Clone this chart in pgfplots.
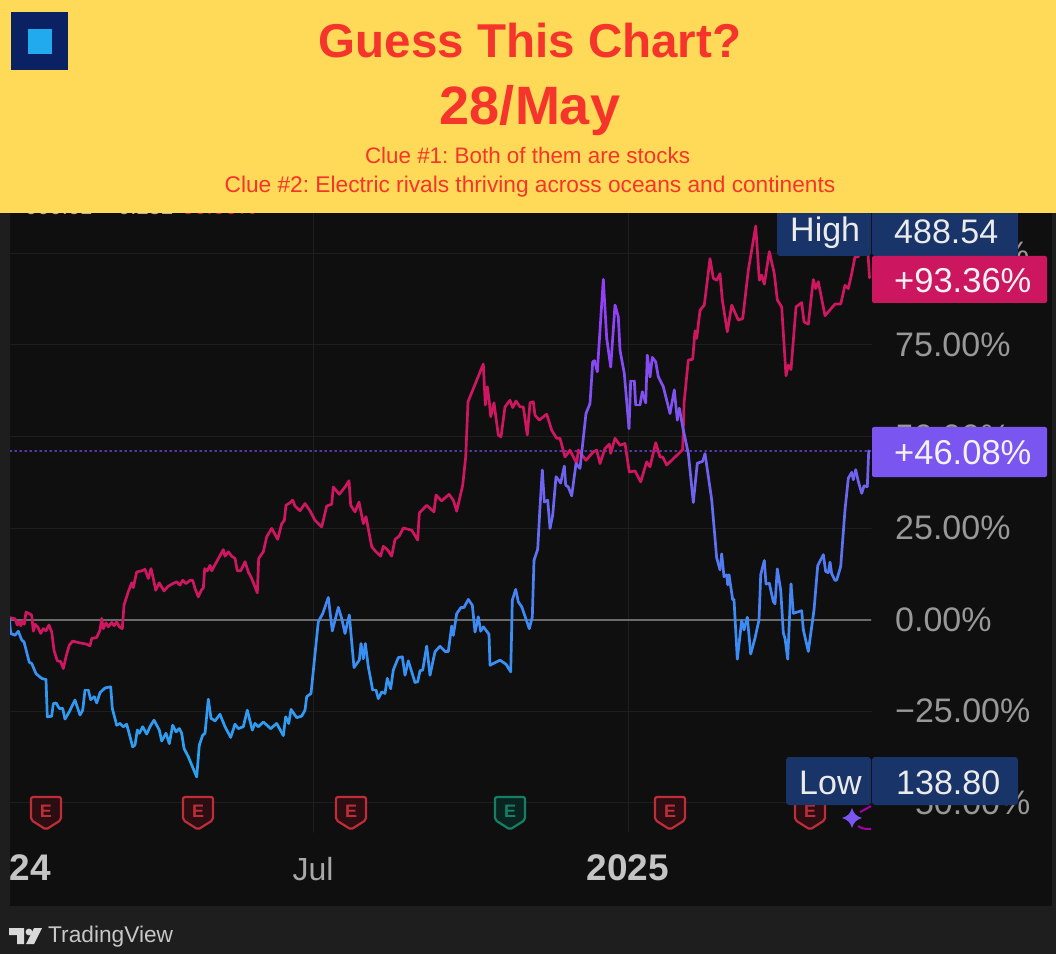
\documentclass[border=0pt]{standalone}
\usepackage{fontspec}
\setmainfont{Liberation Sans}
\usepackage{pgfplots}
\pgfplotsset{compat=1.18}
\frenchspacing
\definecolor{banner}{HTML}{FFDA58}
\definecolor{ttl}{HTML}{F5352B}
\definecolor{panel}{HTML}{0F0F10}
\definecolor{strip}{HTML}{1E1E1F}
\definecolor{gridc}{HTML}{1E1E1F}
\definecolor{pinkl}{HTML}{CF1660}
\definecolor{pinktag}{HTML}{CC1760}
\definecolor{purtag}{HTML}{7B55F0}
\definecolor{navy}{HTML}{183468}
\definecolor{axt}{HTML}{989898}
\definecolor{redE}{HTML}{BE2D38}
\definecolor{redF}{HTML}{2A0E11}
\definecolor{grnE}{HTML}{147F66}
\definecolor{grnF}{HTML}{0B231E}
\newcommand{\fs}[1]{\fontsize{#1}{#1}\selectfont}
\newcommand{\shield}[3]{%
  \begin{scope}[shift={(#1,0)}]
  \draw[#2,fill=#3,line width=2.2pt,rounded corners=2pt,line join=round]
    (-15,797)--(15,797)--(15,820)--(0,829.5)--(-15,820)--cycle;
  \node[text=#2,font=\fs{18}\bfseries,inner sep=0pt] at (0,811.5) {E};
  \end{scope}}
\begin{document}
\begin{tikzpicture}
\path[use as bounding box] (0,0) rectangle (1056pt,954pt);
\fill[strip] (0,0) rectangle (1056pt,954pt);
\fill[panel] (10pt,48.5pt) rectangle (1052pt,954pt);
\begin{axis}[
  at={(9pt,122pt)},anchor=south west,
  x=1pt,y=3.66pt,
  xmin=9,xmax=871,ymin=-58.06,ymax=111.07,
  axis line style={draw=none},
  major tick length=0pt,
  grid=major,
  grid style={gridc,line width=1pt},
  xtick={9.5,313,628},
  xticklabels={\textcolor[HTML]{C4C4C4}{\fs{37}\bfseries 2024},\textcolor[HTML]{A8A8A8}{Jul},\textcolor[HTML]{C4C4C4}{\fs{37}\bfseries 2025}},
  ytick={-50,-25,0,25,50,75,100},
  yticklabels={−50.00\%,−25.00\%,0.00\%,25.00\%,50.00\%,75.00\%,100.00\%},
  yticklabel pos=right,
  y tick label style={anchor=west,inner sep=0pt,xshift=24pt,text=axt,font=\fs{34}},
  x tick label style={anchor=base,inner sep=0pt,yshift=-48pt,font=\fs{32}},
  colormap={tv}{rgb255(0pt)=(40,165,240); rgb255(43pt)=(62,138,245); rgb255(73pt)=(105,105,240); rgb255(100pt)=(125,85,240); rgb255(136pt)=(155,55,250)},
  point meta min=-43, point meta max=93,
  line cap=round,line join=round,
]
\addplot[no markers,color=white!42!black,line width=2pt] coordinates {(10,0)(871,0)};
\addplot[no markers,color=purtag!70!black,line width=1.4pt,dash pattern=on 1.5pt off 3.5pt] coordinates {(10,46.08)(871,46.08)};
\addplot[no markers,pinkl,line width=2.7pt] coordinates {
(10,0.5)(15,0.2)(17.3,-1.5)(19.3,-0.6)(20.7,-1.7)(23.3,-0.2)(24.3,-1.3)(26,2.0)(29.3,1.6)(31.7,1.2)
(33.3,-3.2)(35.3,-1.3)(36.7,-1.8)(37.7,-2.0)(40.7,-3.8)(43.3,-2.5)(46,-3.1)(49,-1.5)(51.7,-3.4)(54,-8.4)
(57.3,-11.3)(60.7,-11.5)(63.3,-13.4)(66,-10.2)(69.3,-7.0)(72.7,-5.9)(80,-6.4)(86,-6.7)(90,-7.2)(91.7,-5.2)
(96.7,-4.9)(100,-2.9)(101.7,0.3)(103.3,-2.5)(106,-0.9)(108.3,-2.0)(111.7,-0.8)(114,-1.7)(116.7,-0.6)(119.3,-2.0)
(122.3,-2.5)(124,3.9)(128.3,7.6)(131.7,10.0)(133.3,8.7)(136.7,13.0)(141.7,13.3)(145,13.7)(148.3,11.2)(151,13.9)
(153.3,11.2)(155.7,8.0)(159.3,10.0)(164,7.8)(168.3,9.1)(172.7,9.8)(176.7,10.3)(180,9.4)(182.7,10.7)(186,9.8)
(190,10.7)(192.7,10.7)(195,8.5)(198.3,6.2)(201.7,8.2)(203.3,8.5)(204.7,13.9)(207.3,13.3)(210,14.8)(211.7,13.3)
(216.7,15.8)(223.3,19.1)(225,17.3)(228.3,18.5)(231.7,17.3)(235,16.7)(237.3,13.3)(240.7,13.3)(245,15.8)(248.3,13.0)
(251.7,11.2)(257.3,7.3)(258.7,16.7)(263.3,18.5)(266.7,22.6)(271.7,24.9)(277.7,21.9)(281.7,26.2)(284.3,27.0)(286,31.2)
(290,31.9)(292.7,32.6)(295,31.0)(300,29.7)(305,31.7)(310,29.7)(315,27.1)(321.7,25.3)(326.7,31.0)(331.7,31.5)
(333.3,36.2)(339.3,34.2)(345,36.2)(349,37.9)(350.7,31.2)(355,29.4)(359,32.1)(363.3,26.2)(366,28.1)(371.7,19.9)
(376,18.5)(380.7,17.3)(383.3,20.0)(387.3,19.1)(391.7,17.3)(395,21.9)(399.3,22.8)(403.3,25.0)(411.7,24.4)(417.7,21.7)
(419.3,29.1)(426.7,31.2)(434,29.4)(436,34.0)(441.7,32.4)(449,34.2)(453.3,32.6)(456.7,29.6)(462.7,36.7)(465.7,44.4)
(468,59.5)(483.3,69.8)(485.3,58.6)(487.3,63.6)(489.3,59.5)(490.7,55.4)(494,59.2)(498.3,50.4)(501,49.9)(505,58.1)
(510,59.9)(512.7,57.9)(516,59.7)(520,58.1)(523.3,58.1)(527.3,50.4)(530,59.2)(533.3,59.5)(535,55.8)(539.3,54.5)
(546.7,56.1)(551.7,51.7)(556.7,49.5)(560,49.5)(565,44.4)(570,46.3)(576.7,42.6)(578.3,46.3)(586,43.5)(593.3,45.8)
(596.7,46.3)(600,42.6)(605,46.7)(609.3,47.9)(610.7,45.4)(615,49.5)(620,47.6)(625,48.1)(629.3,40.3)(635,40.6)
(640.7,37.6)(646.7,43.1)(650,41.7)(655.7,48.3)(660,44.4)(662.7,44.4)(666.7,42.2)(682.7,46.4)(684,59.0)(688.3,70.9)
(692.7,71.1)(695,78.9)(696.7,76.8)(700,84.5)(704.3,85.9)(710,98.6)(713.3,93.2)(716.7,92.7)(720,94.5)(722.3,87.3)
(727.3,78.6)(731.7,85.9)(738.3,81.8)(742.7,82.2)(748.3,95.4)(755.7,107.5)(759.3,92.7)(761.7,94.1)(764.3,91.6)(769.3,100.5)
(774.3,94.5)(777.3,87.3)(781.7,85.4)(786,66.6)(788.3,69.5)(791,68.3)(796,85.4)(801.7,86.6)(804,81.3)(808.3,80.7)
(813.3,92.9)(815.7,90.4)(818.3,92.3)(825,83.0)(835,86.2)(840.7,86.2)(845,91.3)(848.3,90.4)(851.7,94.5)(855,99.1)
(858.3,99.1)(861,104)(866,106)(868,100)(869.5,93.36)
};
\addplot[mesh,point meta=y,no markers,line width=2.7pt,line cap=round] coordinates {
(9.3,0.3)(10.7,-3.8)(15,-4.3)(18.3,-3.2)(21.7,-5.6)(24,-6.1)(29.3,-11.7)(31.7,-12.0)(36,-14.8)(41.7,-16.1)
(46,-16.4)(47.3,-26.6)(51.7,-26.4)(53.3,-23.0)(56,-22.8)(59.3,-24.3)(62.7,-24.3)(65,-27.2)(69.3,-25.2)(75,-22.0)
(80,-26.1)(82.7,-24.8)(85,-19.3)(88.3,-19.3)(90.7,-21.9)(94.3,-21.1)(96.7,-22.8)(100,-20.0)(105,-18.7)(110.7,-18.4)
(112.3,-24.3)(116.7,-28.9)(120,-28.4)(123.3,-29.3)(126.7,-28.6)(132.7,-34.8)(135,-34.3)(137.3,-30.2)(139.3,-31.1)(142.7,-29.3)
(146.7,-31.3)(150,-29.3)(154,-27.5)(159.3,-30.2)(161.7,-33.2)(166,-31.1)(169.3,-33.9)(172.7,-28.9)(176,-30.7)(179.3,-29.8)
(181.7,-31.1)(184,-35.2)(188.3,-37.5)(196.7,-43.0)(199.3,-34.3)(202.7,-31.6)(205,-31.1)(208.3,-21.8)(211,-27.0)(215,-27.7)
(220,-25.9)(225,-29.3)(230.7,-32.2)(235,-28.6)(238.3,-29.8)(243.3,-29.3)(247.3,-24.8)(252.3,-30.2)(255,-28.4)(258.3,-29.3)
(263.3,-28.0)(270.7,-29.8)(276.7,-28.4)(283.3,-31.7)(285.7,-26.6)(288.7,-28.4)(291,-24.6)(296.7,-26.8)(301.7,-26.4)(305,-24.8)
(306.7,-21.1)(311,-20.2)(318.3,-0.6)(322.7,1.6)(328.3,6.0)(332.3,-3.1)(338.3,3.3)(341.7,0.3)(345,-3.8)(349.3,1.2)
(354,-13.1)(359.3,-11.1)(361,-6.6)(363.3,-10.7)(365.3,-6.6)(368.3,-12.9)(372.7,-19.3)(376,-19.3)(378.3,-21.6)(381.7,-19.8)
(385,-20.2)(387.3,-16.1)(390.7,-18.9)(393.3,-13.8)(398.3,-10.4)(402.3,-10.2)(405,-15.2)(408.3,-11.3)(415,-17.2)(417.7,-17.0)
(420,-14.0)(422.7,-13.8)(426.7,-7.3)(430,-15.2)(435,-8.8)(440,-7.3)(445,-8.7)(448.3,-8.7)(451.7,-1.8)(453.3,-4.3)
(456.7,1.6)(461,3.3)(464,3.3)(468.3,5.5)(472.3,3.9)(475,-3.4)(478.3,0.7)(480.7,-3.2)(483.3,-2.0)(489,-4.0)
(490,-12.5)(500,-11.1)(506,-12.2)(510.7,-14.3)(512.3,5.3)(515.7,8.2)(518.3,4.8)(521.7,3.5)(529.3,-2.5)(532.3,0.7)
(534,16.2)(537.7,19.2)(540,30.8)(542.3,40.8)(544.3,32.1)(547.7,32.6)(550,24.9)(552.7,28.5)(556,39.0)(560.7,37.3)
(564.3,41.9)(565.7,36.7)(568.3,36.2)(571.7,33.8)(576,42.6)(580,41.3)(586,56.3)(590,59.0)(592.7,70.4)(594.7,70.7)
(597.3,67.7)(603.3,92.9)(606.7,76.8)(610.7,69.0)(615,85.9)(618.3,82.7)(620,73.6)(624.3,67.2)(629,52.2)(630.7,65.2)
(634.3,65.2)(635.7,58.6)(640,58.6)(642.3,62.2)(645.7,59.2)(647.3,72.2)(650,66.3)(652.3,71.6)(655.7,70.4)(658.3,66.3)
(663.3,63.6)(670,56.3)(674.3,62.7)(677.3,54.5)(679.3,57.7)(683.3,51.8)(688.3,45.4)(693.3,32.0)(697.3,42.7)(702.7,43.2)
(705,45.3)(711.7,32.7)(716.7,16.8)(720,13.6)(721.7,17.9)(724,11.7)(726.7,12.2)(727.7,9.5)(729,12.2)(732.7,5.4)
(734,5.4)(737.3,-10.8)(741.7,-0.3)(744,-2.8)(747.3,0.6)(750.7,-9.4)(755,-5.1)(759,-0.1)(760.7,12.2)(764.3,16.1)
(766,9.7)(769.3,9.9)(773.3,4.9)(775,4.3)(777.3,13.8)(780.7,8.1)(783.3,-3.7)(785,-5.1)(787.7,-10.8)(791,9.7)
(793.3,1.7)(801.7,2.4)(803.3,-2.8)(808.3,-8.7)(814,2.6)(817.7,14.7)(823.3,17.7)(825.7,13.1)(828.3,12.8)(830,15.6)
(831.7,12.5)(835,10.7)(836.7,10.8)(840.7,14.5)(845,30.0)(848.3,38.6)(851.7,40.2)(853.3,38.2)(855.7,40.9)(858.3,37.7)
(861.7,34.5)(864,36.5)(867.3,36.3)(868.7,46.08)
};
\end{axis}
\begin{scope}[x=1pt,y=-1pt,yshift=954pt]
% frame of the panel and the left strip
\fill[strip] (0,200) rectangle (10,954);
\fill[strip] (0,905.5) rectangle (1056,954);
\fill[strip] (1052,200) rectangle (1056,954);
% earnings markers
\shield{46}{redE}{redF}
\shield{198}{redE}{redF}
\shield{351}{redE}{redF}
\shield{510}{grnE}{grnF}
\shield{670}{redE}{redF}
\shield{810}{redE}{redF}
% sparkle
\fill[purtag] (852,808) .. controls (854,814) and (856,816) .. (862,818)
  .. controls (856,820) and (854,822) .. (852,828)
  .. controls (850,822) and (848,820) .. (842,818)
  .. controls (848,816) and (850,814) .. (852,808) -- cycle;
\begin{scope}
\clip (855,800) rectangle (871,835);
\draw[color=violet!70!magenta,line width=2pt] (858,826) .. controls (862,829) and (866,829) .. (871,829);
\draw[color=violet!70!magenta,line width=2pt] (860,812) .. controls (864,810) and (868,808) .. (871,806);
\end{scope}
% price tags
\fill[navy,rounded corners=3pt] (777,200) rectangle (871,256);
\fill[navy,rounded corners=3pt] (872,200) rectangle (1018,256);
\fill[navy,rounded corners=3pt] (786,757) rectangle (871,805);
\fill[navy,rounded corners=3pt] (872,757) rectangle (1018,805);
\fill[pinktag,rounded corners=2pt] (872,256) rectangle (1047,303);
\fill[purtag,rounded corners=2pt] (872,427) rectangle (1047,477);
\node[anchor=base west,inner sep=0pt,text=white!92!black,font=\fs{34}] at (790,242) {High};
\node[anchor=base west,inner sep=0pt,text=white!92!black,font=\fs{34}] at (894,244) {488.54};
\node[anchor=base west,inner sep=0pt,text=white!92!black,font=\fs{34}] at (799,794) {Low};
\node[anchor=base west,inner sep=0pt,text=white!92!black,font=\fs{34}] at (896,794) {138.80};
\node[anchor=west,inner sep=0pt,text=white!95!black,font=\fs{34.5}] at (894,281) {+93.36\%};
\node[anchor=west,inner sep=0pt,text=white!95!black,font=\fs{34.5}] at (894,453) {+46.08\%};
% clipped legend under the banner
\node[anchor=base west,inner sep=0pt,text=white!70!black,font=\fs{22}] at (25,215) {000.01};
\node[anchor=base west,inner sep=0pt,text=white!70!black,font=\fs{22}] at (118,215) {0.252};
\node[anchor=base west,inner sep=0pt,text=pinkl,font=\fs{22}] at (182,215) {00.00\%};
% banner
\fill[banner] (0,0) rectangle (1056,213);
\fill[color={rgb,255:red,10;green,34;blue,100}] (11,12) rectangle (68,70);
\fill[color={rgb,255:red,34;green,170;blue,238}] (28,29) rectangle (52,54);
\node[text=ttl,font=\fs{47.5}\bfseries,inner sep=0pt] at (530,41) {Guess This Chart?};
\node[anchor=base,text=ttl,font=\fs{54}\bfseries,inner sep=0pt] at (530,125) {28/May};
\node[anchor=base,text=ttl,font=\fs{22.4}] at (527.5,164) {Clue \#1: Both of them are stocks};
\node[anchor=base,text=ttl,font=\fs{22.7}] at (530,193) {Clue \#2: Electric rivals thriving across oceans and continents};
% TradingView mark
\fill[color=white!85!black] (9,928)--(24,928)--(24,944)--(17,944)--(17,935)--(9,935)--cycle;
\fill[color=white!85!black] (29,932) circle (3.4);
\fill[color=white!85!black] (34,928)--(42,928)--(34,944)--(26,944)--cycle;
\node[anchor=west,inner sep=0pt,text=white!78!black,font=\fs{22.7}] at (48,937) {TradingView};
\end{scope}
\end{tikzpicture}
\end{document}
